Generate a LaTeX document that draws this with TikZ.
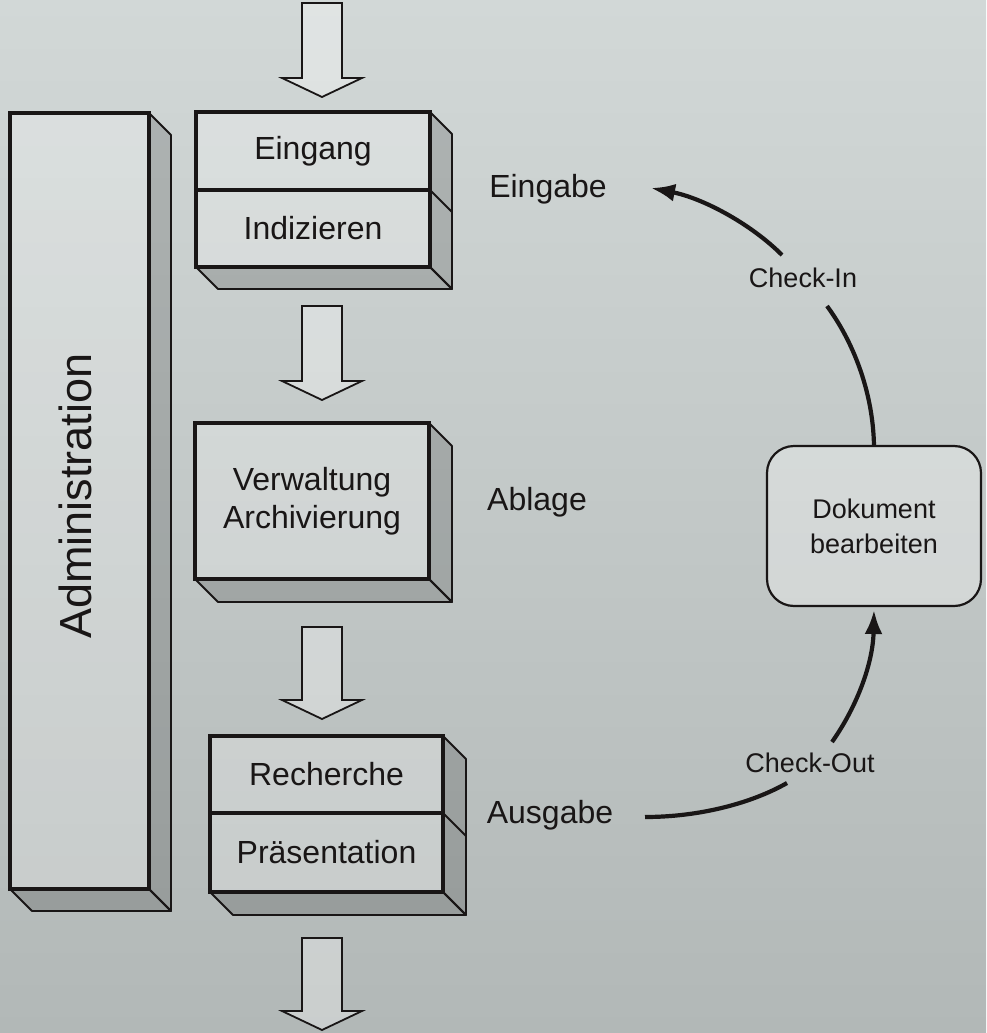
\documentclass[tikz,border=0pt]{standalone}
\usepackage{fontspec}
\setmainfont{Liberation Sans}
\usetikzlibrary{calc,arrows.meta}
\definecolor{ink}{RGB}{25,22,22}
\definecolor{bgtop}{RGB}{210,216,215}
\definecolor{bgbot}{RGB}{178,184,183}
\newcommand\lblfont{\fontsize{32}{38}\selectfont}
\newcommand\smfont{\fontsize{27}{35}\selectfont}
\newcommand\admfont{\fontsize{45}{50}\selectfont}
\pgfdeclarelayer{back}
\pgfsetlayers{back,main}
\tikzset{
  front/.style={draw=ink, line width=3.2pt, fill=white, fill opacity=0.25, text opacity=1,
    outer sep=0pt, inner sep=0pt, font=\lblfont, text=ink},
  face/.style={draw=ink, line width=1.8pt, fill=black, fill opacity=0.16, line join=round},
  barrow/.style={draw=ink, line width=1.8pt, fill=white, fill opacity=0.32, line join=miter},
  docbox/.style={draw=ink, line width=2.2pt, rounded corners=27pt, minimum width=214pt,
    minimum height=160pt, fill=white, fill opacity=0.3, text opacity=1, align=center,
    font=\smfont, text=ink, outer sep=0pt},
  lbl/.style={font=\lblfont, text=ink},
  smlbl/.style={font=\smfont, text=ink},
  curve/.style={draw=ink, line width=4.2pt},
  tip/.style={-{Latex[length=24pt,width=18pt]}}
}
\newcommand\blockarrow[2]{%
  \draw[barrow] ($(#1)+(-20,0)$) -- ($(#2)+(-20,-19)$) -- ($(#2)+(-40,-19)$) -- (#2)
    -- ($(#2)+(40,-19)$) -- ($(#2)+(20,-19)$) -- ($(#1)+(20,0)$) -- cycle;}
\newcommand\depthbox[3]{% top node, bottom node, depth
  \draw[face] (#1.north east) -- ++(#3,#3) -- ($(#2.south east)+(#3,#3)$) -- (#2.south east) -- cycle;
  \draw[face] (#2.south west) -- ++(#3,#3) -- ($(#2.south east)+(#3,#3)$) -- (#2.south east) -- cycle;}
\begin{document}
\begin{tikzpicture}[x=1pt, y=-1pt]
\useasboundingbox (0,0) rectangle (986,1033);
\begin{pgfonlayer}{back}
  \shade[top color=bgtop, bottom color=bgbot] (0,0) rectangle (986,1033);
\end{pgfonlayer}

% Administration bar
\node[front, minimum width=139pt, minimum height=776pt] (adm) at (79.5,501) {};
\node[font=\admfont, text=ink, rotate=90] (admlbl) at (75,496) {Administration};

% Box 1
\node[front, minimum width=234pt, minimum height=78pt] (ein) at (313,151) {Eingang};
\node[front, minimum width=234pt, minimum height=77pt] (ind) at (313,228.5) {Indizieren};
% Box 2
\node[front, minimum width=234pt, minimum height=156pt, align=center] (verw) at (312,501) {Verwaltung\\Archivierung};
% Box 3
\node[front, minimum width=233pt, minimum height=77pt] (rec) at (326.5,774.5) {Recherche};
\node[front, minimum width=233pt, minimum height=79pt] (pres) at (326.5,852.5) {Präsentation};

\begin{pgfonlayer}{back}
  \depthbox{adm}{adm}{22}
  \depthbox{ein}{ind}{22}
  \draw[face] (ein.south east) -- ++(22,22);
  \depthbox{verw}{verw}{23}
  \depthbox{rec}{pres}{23}
  \draw[face] (rec.south east) -- ++(23,23);
\end{pgfonlayer}

% Block arrows
\coordinate (a1s) at (322,3);   \coordinate (a1e) at (322,97);
\coordinate (a2s) at (322,306); \coordinate (a2e) at (322,400);
\coordinate (a3s) at (322,627); \coordinate (a3e) at (322,719);
\coordinate (a4s) at (322,938); \coordinate (a4e) at (322,1030);
\blockarrow{a1s}{a1e}
\blockarrow{a2s}{a2e}
\blockarrow{a3s}{a3e}
\blockarrow{a4s}{a4e}

% Side labels
\node[lbl] (eingabe) at (548,189) {Eingabe};
\node[lbl] (ablage) at (537,502) {Ablage};
\node[lbl] (ausgabe) at (550,815) {Ausgabe};

% Document cycle
\node[docbox] (doc) at (874,526) {Dokument\\bearbeiten};
\node[smlbl] (ci) at (803,278) {Check-In};
\node[smlbl] (co) at (810,763) {Check-Out};

\coordinate (ciB) at (827,306);
\coordinate (ciT) at (782,255);
\coordinate (eTip) at (651,188);
\coordinate (aL) at (645,817);
\coordinate (coL) at (787,783);
\coordinate (coR) at (832,742);
\coordinate (docTip) at ($(doc.south)+(0,4)$);

\draw[curve] (doc.north) .. controls (873,390) and (852,340) .. (ciB);
\draw[curve, tip] (ciT) .. controls (750,223) and (702,198) .. (eTip);
\draw[curve] (aL) .. controls (700,817) and (752,803) .. (coL);
\draw[curve, tip] (coR) .. controls (858,705) and (873,662) .. (docTip);
\end{tikzpicture}
\end{document}
